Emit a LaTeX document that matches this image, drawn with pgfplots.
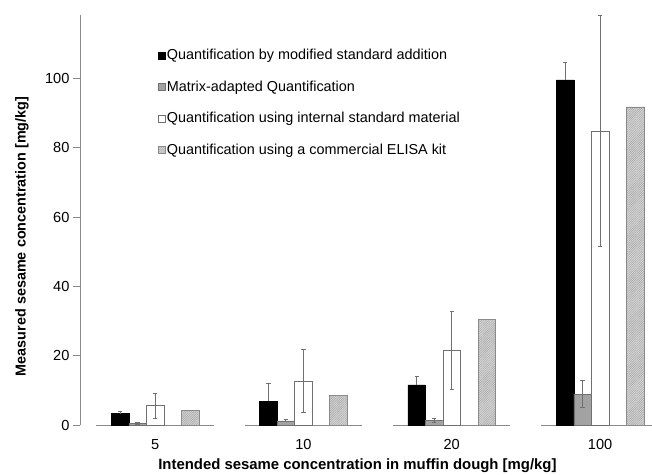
\documentclass[border=0pt]{standalone}
\usepackage{pgfplots}
\pgfplotsset{compat=1.18}
\usepackage{fontspec}
\setmainfont{Liberation Sans}
\usetikzlibrary{patterns.meta}

\definecolor{axisgray}{HTML}{8A8A8A}
\definecolor{errgray}{HTML}{707070}
\definecolor{matrixgray}{HTML}{A2A2A2}
\definecolor{elisafill}{HTML}{D4D4D4}

\pgfplotsset{
  errs/.style={
    error bars/.cd, y dir=#1, y explicit,
    error bar style={color=errgray, line width=0.9pt},
    error mark options={rotate=90, mark size=2.2pt, errgray, line width=0.9pt},
  },
}

\begin{document}
\begin{tikzpicture}
\begin{axis}[
  at={(0,0)}, anchor=south west,
  scale only axis, width=572pt, height=410pt,
  xmin=-0.506, xmax=3.35, ymin=0, ymax=118.3,
  clip=false,
  axis lines*=left,
  x axis line style={draw=none},
  y axis line style={axisgray, line width=0.9pt},
  xtick={0,1,2,3}, xticklabels={5,10,20,100},
  x tick style={draw=none},
  ytick={0,20,40,60,80,100},
  tick align=outside, major tick length=7pt,
  y tick style={axisgray, line width=0.9pt},
  tick label style={font=\fontsize{14.6}{17}\selectfont},
  /pgf/number format/assume math mode=true,
  xticklabel style={yshift=-4pt},
  ylabel={\textbf{Measured sesame concentration [mg/kg]}},
  xlabel={\textbf{Intended sesame concentration in muffin dough [mg/kg]}},
  every axis y label/.style={at={(axis description cs:-0.1014,0.46)}, rotate=90, anchor=center, font=\fontsize{14.4}{16}\selectfont},
  every axis x label/.style={at={(axis description cs:0.485,-0.1)}, anchor=center, font=\fontsize{14.9}{17}\selectfont},
  legend style={at={(axis description cs:0.136,0.92)}, anchor=north west, draw=none, fill=none,
    row sep=16.5pt, inner sep=0pt, font=\fontsize{14.4}{16}\selectfont,
    nodes={inner sep=1.5pt}},
  legend cell align=left,
  legend image code/.code={\draw[#1] (0pt,-3.5pt) rectangle (7pt,3.5pt);},
  bar width=0.118,
]

% baseline pieces under each dough concentration
\addplot[axisgray, line width=0.9pt, forget plot] coordinates {(-0.395,0) (0.395,0)};
\addplot[axisgray, line width=0.9pt, forget plot] coordinates {(0.605,0) (1.395,0)};
\addplot[axisgray, line width=0.9pt, forget plot] coordinates {(1.605,0) (2.395,0)};
\addplot[axisgray, line width=0.9pt, forget plot] coordinates {(2.605,0) (3.35,0)};

% bars sit at fixed offsets from the category positions 0, 1, 2, 3
% modified standard addition (offset -0.236)
\addplot[ybar, bar shift=0, fill=black, draw=black, errs=plus]
  coordinates {(-0.236,3.3) +- (0,0.5) (0.764,6.9) +- (0,5.1) (1.764,11.6) +- (0,2.3) (2.764,99.6) +- (0,5.0)};
\addlegendentry{Quantification by modified standard addition}

% matrix-adapted (offset -0.118)
\addplot[ybar, bar shift=0, fill=matrixgray, draw=errgray, errs=both]
  coordinates {(-0.118,0.5) +- (0,0.2) (0.882,1.2) +- (0,0.3) (1.882,1.3) +- (0,0.6) (2.882,8.9) +- (0,3.95)};
\addlegendentry{Matrix-adapted Quantification}

% internal standard material (offset 0)
\addplot[ybar, bar shift=0, fill=white, draw=errgray, errs=both]
  coordinates {(0,5.6) +- (0,3.6) (1,12.7) +- (0,9.2) (2,21.5) +- (0,11.3) (3,84.8) +- (0,33.4)};
\addlegendentry{Quantification using internal standard material}

% commercial ELISA kit (offset +0.236)
\addplot[ybar, bar shift=0, fill=elisafill, draw=axisgray,
  postaction={pattern={Lines[angle=45,distance=1.6pt,line width=0.45pt]}, pattern color=gray!70}]
  coordinates {(0.236,4.2) (1.236,8.5) (2.236,30.4) (3.236,91.8)};
\addlegendentry{Quantification using a commercial ELISA kit}

\end{axis}
\pgfresetboundingbox
\path (-80pt,-49pt) rectangle (572pt,425pt);
\end{tikzpicture}
\end{document}
